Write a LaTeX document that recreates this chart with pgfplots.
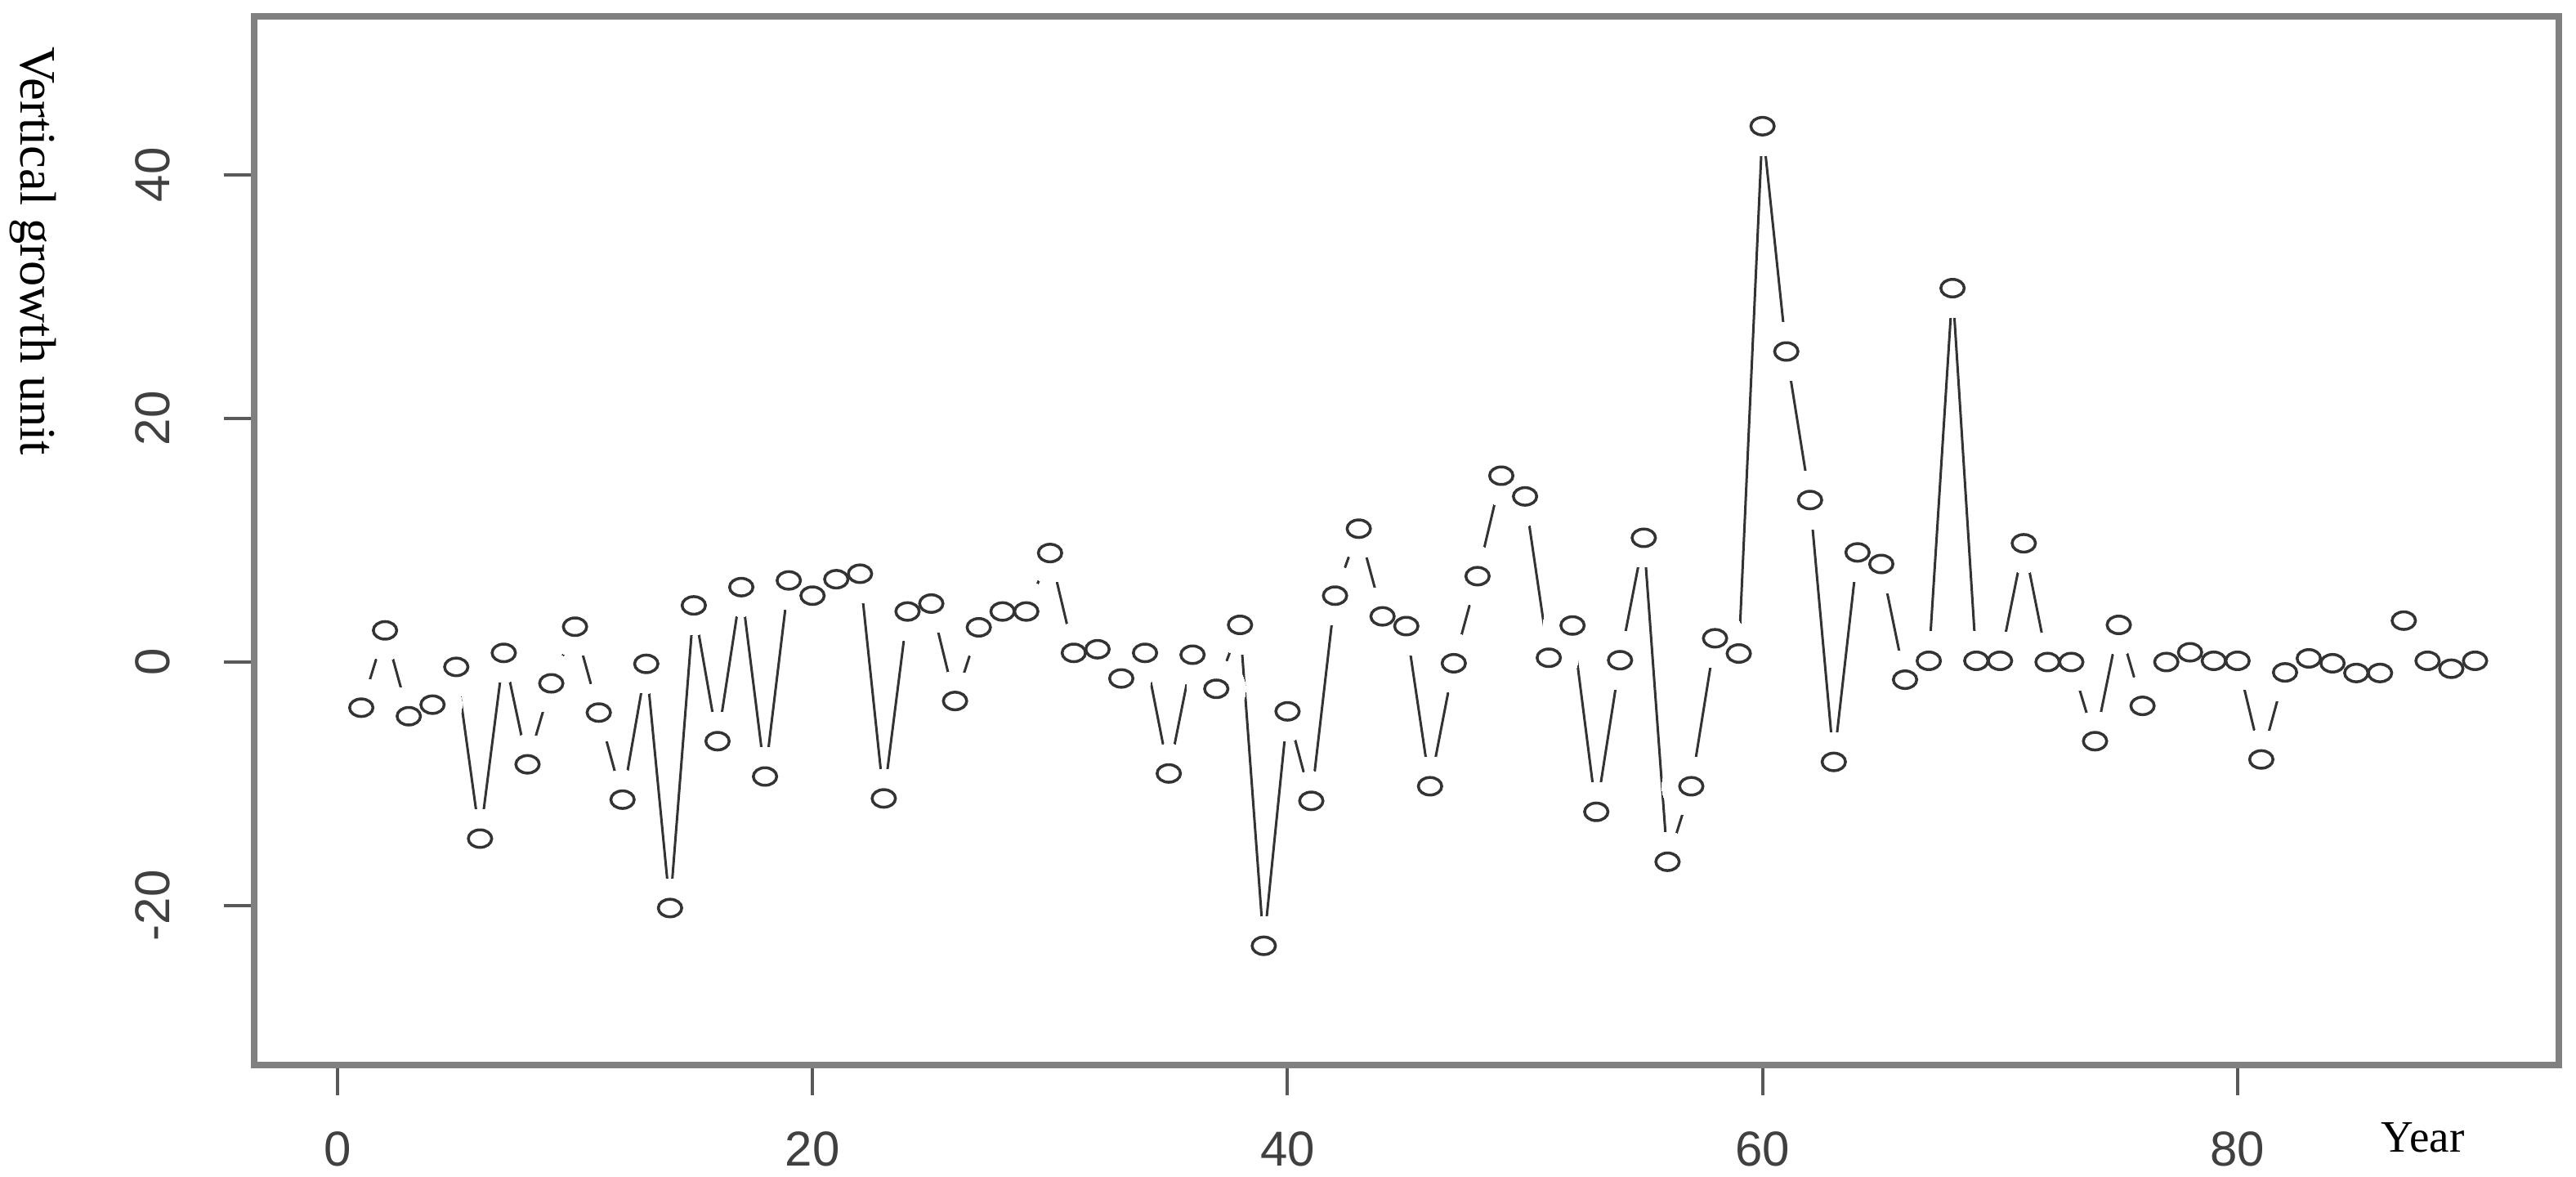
\documentclass[border=0pt]{standalone}
\usepackage{pgfplots}
\pgfplotsset{compat=1.18}
\usepackage{pgfplotstable}
\usepackage{fontspec}
\setmainfont{Liberation Serif}
\setsansfont{Liberation Sans}

\pgfplotstableread{
x y
1 -3.75
2 2.6
3 -4.45
4 -3.5
5 -0.4
6 -14.5
7 0.75
8 -8.4
9 -1.75
10 2.9
11 -4.15
12 -11.3
13 -0.15
14 -20.2
15 4.65
16 -6.5
17 6.15
18 -9.4
19 6.7
20 5.45
21 6.8
22 7.25
23 -11.2
24 4.15
25 4.8
26 -3.2
27 2.85
28 4.15
29 4.15
30 8.95
31 0.75
32 1.05
33 -1.35
34 0.75
35 -9.15
36 0.6
37 -2.2
38 3.05
39 -23.3
40 -4.05
41 -11.4
42 5.45
43 10.95
44 3.75
45 2.95
46 -10.2
47 -0.1
48 7.05
49 15.3
50 13.6
51 0.35
52 3.0
53 -12.3
54 0.15
55 10.2
56 -16.4
57 -10.2
58 1.95
59 0.7
60 44.0
61 25.5
62 13.3
63 -8.2
64 9.0
65 8.05
66 -1.45
67 0.1
68 30.7
69 0.1
70 0.1
71 9.75
72 0
73 0
74 -6.5
75 3.05
76 -3.6
77 0
78 0.8
79 0.1
80 0.1
81 -8.0
82 -0.85
83 0.3
84 -0.1
85 -0.9
86 -0.9
87 3.4
88 0.1
89 -0.55
90 0.1
}\growth

\begin{document}
\begin{tikzpicture}
\useasboundingbox (-62.2pt,-27.4pt) rectangle (568.2pt,260.6pt);
\begin{axis}[
  at={(0pt,0pt)}, anchor=south west,
  scale only axis, width=564pt, height=256.6pt,
  xmin=-3.51, xmax=93.53, ymin=-33.09, ymax=53.02,
  xtick={0,20,40,60,80}, ytick={-20,0,20,40},
  xtick pos=bottom, ytick pos=left, tick align=outside,
  major tick length=7.4pt,
  axis line style={black!50, line width=1.6pt},
  tick style={black!65, line width=0.8pt},
  ticklabel style={font=\fontsize{12}{14}\sffamily, text=black!75},
  /pgf/number format/assume math mode=true,
  yticklabel style={xshift=-17.4pt, rotate=90, anchor=center},
  xticklabel style={anchor=center, yshift=-13.2pt},
  xlabel={Year},
  xlabel style={font=\fontsize{11}{13}\selectfont, at={(axis description cs:0.941,0)}, anchor=base, yshift=-21.4pt},
  ylabel={Vertical growth unit},
  ylabel style={font=\fontsize{12.5}{14}\selectfont, at={(axis description cs:-0.096,0.776)}, rotate=180, anchor=center},
]
\addplot[black!80, line width=0.6pt, mark=none] table[x=x,y=y] {\growth};
\addplot[white, only marks, mark=*, mark size=7.2pt, mark options={fill=white, draw=white, line width=0pt}] table[x=x,y=y] {\growth};
\addplot[black!80, only marks, mark=o, mark size=2.15pt, mark options={black!80, line width=0.7pt, xscale=1.33}] table[x=x,y=y] {\growth};
\end{axis}
\end{tikzpicture}
\end{document}
